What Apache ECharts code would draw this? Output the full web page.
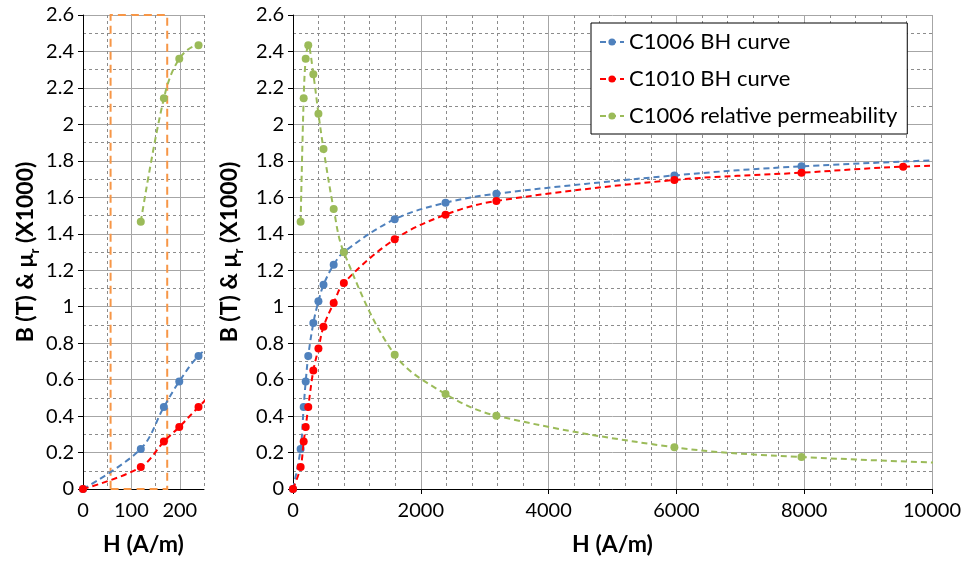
<!DOCTYPE html>
<html><head><meta charset="utf-8">
<script src="https://cdn.jsdelivr.net/npm/echarts@6/dist/echarts.min.js"></script>
<style>html,body{margin:0;padding:0;background:#fff}#c{width:964px;height:564px}</style>
</head><body><div id="c"></div>
<script>
// ---- data (H in A/m, B in T, mu_r in x1000) ----
const H_C1006 = [0, 119.4, 167.1, 198.9, 238.7, 318.3, 397.9, 477.5, 636.6, 795.8, 1591.5, 2387.3, 3183.1, 5968.3, 7957.7, 11936.6];
const B_C1006 = [0, 0.22, 0.45, 0.59, 0.73, 0.91, 1.03, 1.12, 1.23, 1.30, 1.48, 1.57, 1.62, 1.72, 1.77, 1.83];
const H_C1010 = [0, 119.4, 167.1, 198.9, 238.7, 318.3, 397.9, 477.5, 636.6, 795.8, 1591.5, 2387.3, 3183.1, 5968.3, 7957.7, 9549.3, 11936.6];
const B_C1010 = [0, 0.12, 0.26, 0.34, 0.45, 0.65, 0.77, 0.89, 1.02, 1.13, 1.37, 1.505, 1.58, 1.695, 1.735, 1.768, 1.79];
const H_MU = [119.4, 167.1, 198.9, 238.7, 318.3, 397.9, 477.5, 636.6, 795.8, 1591.5, 2387.3, 3183.1, 5968.3, 7957.7, 11936.6];
const MU_C1006 = [1.466, 2.143, 2.36, 2.434, 2.275, 2.059, 1.865, 1.536, 1.298, 0.737, 0.521, 0.402, 0.229, 0.1755, 0.122];
const seriesNames = ['C1006 BH curve', 'C1010 BH curve', 'C1006 relative permeability'];
const xTitle = 'H (A/m)';
const leftXMajor = [100, 200];          // solid major grid lines of zoomed panel
const zoomBoxX = [57, 174];             // orange dashed highlight box (H range)
const zoomBoxY = [0, 2.6];

const zip = (xs, ys) => xs.map((x, i) => [x, ys[i]]);
const colors = ['#4F81BD', '#FF0000', '#9BBB59'];
const FONT = 'Lato';
const gridMajor = '#a6a6a6', gridMinor = '#8c8c8c';

function yAxis(gi) {
  return {
    type: 'value', gridIndex: gi, min: 0, max: 2.6, interval: 0.2,
    name: '{a|B (T) & μ}{s|r}{a| (X1000)}', nameLocation: 'middle', nameGap: 46,
    nameTextStyle: { rich: {
      a: { fontFamily: FONT, fontWeight: 'bold', fontSize: 23, color: '#000', lineHeight: 26, verticalAlign: 'bottom' },
      s: { fontFamily: FONT, fontWeight: 'bold', fontSize: 13, color: '#000', lineHeight: 26, verticalAlign: 'bottom', padding: [0,0,-4,0] } } },
    axisLine: { show: true, lineStyle: { color: '#000', width: 1 } },
    axisTick: { show: true, length: 5, lineStyle: { color: '#000' } },
    axisLabel: { fontFamily: FONT, fontSize: 20, color: '#000', margin: 9 },
    splitLine: { show: true, lineStyle: { color: gridMajor, width: 1 } },
    minorTick: { show: false, splitNumber: 2 },
    minorSplitLine: { show: true, lineStyle: { color: gridMinor, type: [3, 3], width: 1 } }
  };
}

const xAxes = [
  { type: 'value', gridIndex: 0, min: 0, max: 250, interval: 50,
    name: xTitle, nameLocation: 'middle', nameGap: 44,
    nameTextStyle: { fontFamily: FONT, fontWeight: 'bold', fontSize: 23, color: '#000' },
    axisLine: { lineStyle: { color: '#000' } },
    axisTick: { show: false },
    axisLabel: { fontFamily: FONT, fontSize: 20, color: '#000', margin: 12,
      formatter: v => (v % 100 === 0 ? String(v) : '') },
    splitLine: { show: true, lineStyle: { color: gridMinor, type: [3, 3], width: 1 } } },
  { type: 'value', gridIndex: 1, min: 0, max: 10000, interval: 2000,
    name: xTitle, nameLocation: 'middle', nameGap: 44,
    nameTextStyle: { fontFamily: FONT, fontWeight: 'bold', fontSize: 23, color: '#000' },
    axisLine: { lineStyle: { color: '#000' } },
    axisTick: { show: true, length: 5, lineStyle: { color: '#000' } },
    axisLabel: { fontFamily: FONT, fontSize: 20, color: '#000', margin: 12, formatter: v => String(v) },
    splitLine: { show: true, lineStyle: { color: gridMajor, width: 1 } },
    minorTick: { show: false, splitNumber: 5 },
    minorSplitLine: { show: true, lineStyle: { color: gridMinor, type: [3, 3], width: 1 } } }
];

function mk(idx, gi, data, extra) {
  return Object.assign({
    name: seriesNames[idx], type: 'line', xAxisIndex: gi, yAxisIndex: gi,
    data: data, smooth: 0.35, clip: true, symbol: 'circle', symbolSize: 8,
    color: colors[idx], itemStyle: { color: colors[idx] },
    lineStyle: { color: colors[idx], width: 2, type: [6, 4] },
    animation: false, z: 3 + idx
  }, extra || {});
}

const dataSets = [zip(H_C1006, B_C1006), zip(H_C1010, B_C1010), zip(H_MU, MU_C1006)];
const series = [];
[0, 1].forEach(gi => {
  dataSets.forEach((d, i) => {
    let extra = {};
    if (gi === 0 && i === 0) {
      extra.markLine = { silent: true, symbol: 'none', label: { show: false }, z: 1,
        lineStyle: { color: gridMajor, type: 'solid', width: 1 },
        data: leftXMajor.map(v => ({ xAxis: v })) };
    }
    if (gi === 0 && i === 2) {
      extra.markArea = { silent: true,
        itemStyle: { color: 'rgba(0,0,0,0)', borderColor: '#F79646', borderWidth: 2, borderType: [8, 5] },
        data: [[{ xAxis: zoomBoxX[0], yAxis: zoomBoxY[0] }, { xAxis: zoomBoxX[1], yAxis: zoomBoxY[1] }]] };
    }
    series.push(mk(i, gi, d, extra));
  });
});

const chart = echarts.init(document.getElementById('c'), null, { renderer: 'canvas' });
chart.setOption({
  animation: false,
  backgroundColor: '#fff',
  grid: [
    { left: 83, right: 964 - 204, top: 15, bottom: 75 },
    { left: 293, right: 32, top: 15, bottom: 75 }
  ],
  xAxis: xAxes,
  yAxis: [yAxis(0), yAxis(1)],
  legend: {
    data: seriesNames, orient: 'vertical', left: 591, top: 23,
    padding: [7, 10, 6, 8], itemGap: 13, itemWidth: 24, itemHeight: 9,
    backgroundColor: '#fff', borderColor: '#000', borderWidth: 1,
    textStyle: { fontFamily: FONT, fontSize: 22, color: '#000', lineHeight: 24 }
  },
  series: series
});
</script></body></html>
